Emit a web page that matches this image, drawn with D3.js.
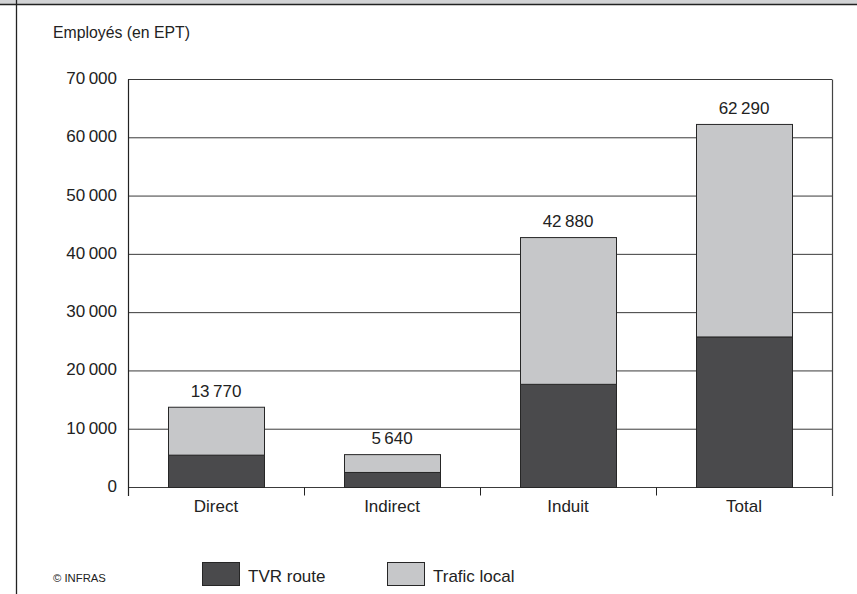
<!DOCTYPE html>
<html>
<head>
<meta charset="utf-8">
<script src="https://cdn.jsdelivr.net/npm/d3@7"></script>
<style>
    body { margin: 0; background: #fff; }
    svg { display: block; font-family: "Liberation Sans", Arial, sans-serif; }
</style>
</head>
<body>
<div id="chart"></div>
<script>
// Chart data
const categories = ["Direct", "Indirect", "Induit", "Total"];
const tvrRoute = [5550, 2580, 17700, 25830];
const traficLocal = [8220, 3060, 25180, 36460];
const totals = [13770, 5640, 42880, 62290];
const yTicks = [0, 10000, 20000, 30000, 40000, 50000, 60000, 70000];
const seriesNames = ["TVR route", "Trafic local"];
const seriesColors = ["#4a4a4c", "#c6c7c9"];

class StackedBarVis {
    constructor(_parentElement) {
        this.parentElement = _parentElement;
        this.initVis();
    }

    initVis() {
        const vis = this;

        vis.fullWidth = 857;
        vis.fullHeight = 594;
        vis.margin = { top: 80, right: 25, bottom: 106, left: 128 };
        vis.width = vis.fullWidth - vis.margin.left - vis.margin.right;
        vis.height = vis.fullHeight - vis.margin.top - vis.margin.bottom;

        vis.svg = d3.select(`#${vis.parentElement}`)
            .append("svg")
            .attr("width", vis.fullWidth)
            .attr("height", vis.fullHeight);

        // Grey header strip and page border
        vis.svg.append("rect")
            .attr("x", 0).attr("y", 0)
            .attr("width", vis.fullWidth).attr("height", 4)
            .attr("fill", "#d2d3d5");
        vis.svg.append("line")
            .attr("x1", 0).attr("x2", vis.fullWidth)
            .attr("y1", 4.5).attr("y2", 4.5)
            .attr("stroke", "#222").attr("stroke-width", 1.5);
        vis.svg.append("line")
            .attr("x1", 16.5).attr("x2", 16.5)
            .attr("y1", 0).attr("y2", vis.fullHeight)
            .attr("stroke", "#222").attr("stroke-width", 1.3);

        vis.g = vis.svg.append("g")
            .attr("transform", `translate(${vis.margin.left},${vis.margin.top})`);

        // Scales
        vis.x = d3.scaleBand().domain(categories).range([0, vis.width]).padding(0);
        vis.y = d3.scaleLinear().domain([0, 70000]).range([vis.height - 0.5, -0.5]);

        vis.locale = d3.formatLocale({ decimal: ",", thousands: "\u2009", grouping: [3], currency: ["", " €"] });
        vis.fmt = vis.locale.format(",d");

        // Y axis title
        vis.svg.append("text")
            .attr("x", 53).attr("y", 38)
            .attr("font-size", 15.8)
            .attr("fill", "#222")
            .text("Employés (en EPT)");

        // Copyright
        vis.svg.append("text")
            .attr("x", 53).attr("y", 582)
            .attr("font-size", 11.3)
            .attr("fill", "#222")
            .text("© INFRAS");

        vis.updateVis();
    }

    updateVis() {
        const vis = this;

        // Gridlines (behind bars)
        vis.g.append("g")
            .attr("class", "grid")
            .selectAll("line")
            .data(yTicks)
            .join("line")
            .attr("x1", 0).attr("x2", vis.width)
            .attr("y1", d => vis.y(d)).attr("y2", d => vis.y(d))
            .attr("stroke", "#3a3a3a").attr("stroke-width", 1);

        // Y tick labels
        vis.g.append("g")
            .selectAll("text")
            .data(yTicks)
            .join("text")
            .attr("x", -11)
            .attr("y", d => vis.y(d) + 4.5)
            .attr("text-anchor", "end")
            .attr("font-size", 17)
            .attr("fill", "#222")
            .text(d => vis.fmt(d));

        // Stacked bars
        const rows = categories.map((c, i) => ({ cat: c, tvr: tvrRoute[i], local: traficLocal[i] }));
        const stack = d3.stack().keys(["tvr", "local"])(rows);
        const barW = vis.x.bandwidth() * 96 / 176;
        const off = (vis.x.bandwidth() - barW) / 2;

        vis.g.append("g")
            .selectAll("g")
            .data(stack)
            .join("g")
            .attr("fill", (d, i) => seriesColors[i])
            .selectAll("rect")
            .data(d => d)
            .join("rect")
            .attr("x", d => Math.round(vis.x(d.data.cat) + off) + 0.5)
            .attr("y", d => vis.y(d[1]))
            .attr("width", barW)
            .attr("height", d => vis.y(d[0]) - vis.y(d[1]))
            .attr("stroke", "#262626")
            .attr("stroke-width", 1);

        // Total labels above bars
        vis.g.append("g")
            .selectAll("text")
            .data(categories)
            .join("text")
            .attr("x", d => vis.x(d) + vis.x.bandwidth() / 2)
            .attr("y", (d, i) => vis.y(totals[i]) - 10.5)
            .attr("text-anchor", "middle")
            .attr("font-size", 17)
            .attr("fill", "#222")
            .text((d, i) => vis.fmt(totals[i]));

        // Frame: left axis, right border, category ticks
        const base = vis.y(0);
        vis.g.append("line")
            .attr("x1", 0.5).attr("x2", 0.5)
            .attr("y1", vis.y(70000)).attr("y2", base + 8.5)
            .attr("stroke", "#222").attr("stroke-width", 1.2);
        vis.g.append("line")
            .attr("x1", vis.width + 0.5).attr("x2", vis.width + 0.5)
            .attr("y1", vis.y(70000)).attr("y2", base + 8.5)
            .attr("stroke", "#444").attr("stroke-width", 1.2);
        const bounds = categories.slice(1).map(c => vis.x(c));
        vis.g.append("g")
            .selectAll("line")
            .data(bounds)
            .join("line")
            .attr("x1", d => d + 0.5).attr("x2", d => d + 0.5)
            .attr("y1", base).attr("y2", base + 8)
            .attr("stroke", "#222").attr("stroke-width", 1);

        // Category labels
        vis.g.append("g")
            .selectAll("text")
            .data(categories)
            .join("text")
            .attr("x", d => vis.x(d) + vis.x.bandwidth() / 2)
            .attr("y", base + 24)
            .attr("text-anchor", "middle")
            .attr("font-size", 17)
            .attr("fill", "#222")
            .text(d => d);

        // Legend
        const legendX = [202, 387];
        const legend = vis.svg.append("g")
            .selectAll("g")
            .data(seriesNames)
            .join("g")
            .attr("transform", (d, i) => `translate(${legendX[i]},562)`);
        legend.append("rect")
            .attr("x", 0.5).attr("y", 0.5)
            .attr("width", 37).attr("height", 23)
            .attr("fill", (d, i) => seriesColors[i])
            .attr("stroke", "#262626");
        legend.append("text")
            .attr("x", 46).attr("y", 20)
            .attr("font-size", 17)
            .attr("fill", "#222")
            .text(d => d);
    }
}

new StackedBarVis("chart");
</script>
</body>
</html>
